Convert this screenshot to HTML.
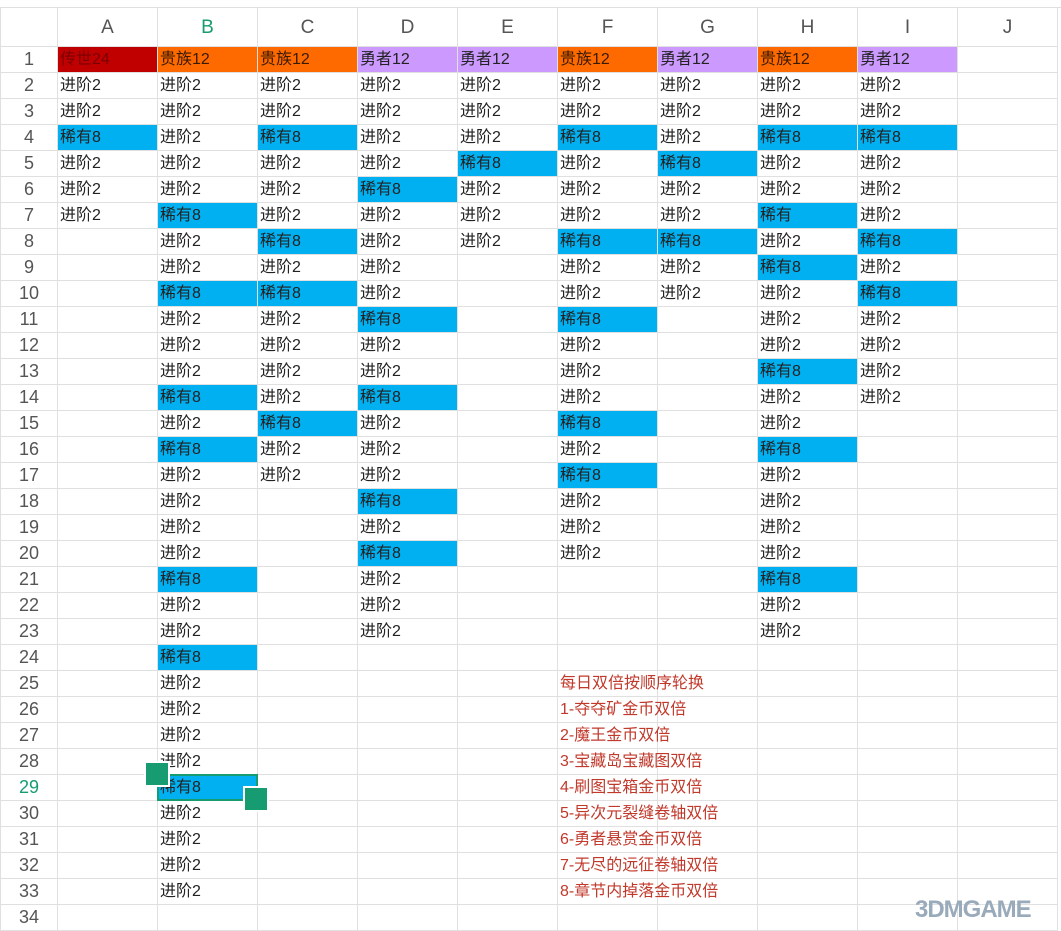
<!DOCTYPE html>
<html><head><meta charset="utf-8"><style>
body{margin:0;width:1061px;height:929px;overflow:hidden;background:#fff;position:relative;font-family:"Liberation Sans","Noto Sans CJK SC",sans-serif}
.top{position:absolute;left:0;top:0;width:1061px;height:7px;border-bottom:1px solid #ddd}
table{position:absolute;left:0;top:7px;width:1057px;border-collapse:collapse;table-layout:fixed}
td{border:1px solid #e0e0e0;height:25px;padding:0 0 0 2px;font-size:16px;color:#222;white-space:nowrap;overflow:visible;line-height:25px}
tr.h td{height:38px;text-align:center;font-size:19px;color:#555;padding:0}
td.n{text-align:center;font-size:18px;color:#555;padding:0}
.r{background:#c00000;color:#7a0000}.o{background:#ff6a00;color:#3a1a00}.p{background:#cc99ff}.b{background:#00b0f0}
.t{color:#c0392b}
.g{color:#179c72!important}
.sel{position:absolute;left:157px;top:774px;width:101px;height:27px;border:2px solid #179c72;box-sizing:border-box}
.hd{position:absolute;width:22px;height:22px;background:#179c72;border:2px solid #fff}
.logo{position:absolute;left:915px;top:896px;font-size:24px;font-weight:bold;color:#9ab;letter-spacing:-1px}
</style></head><body>
<div class="top"></div>
<table>
<colgroup><col style="width:57px"><col style="width:100px"><col style="width:100px"><col style="width:100px"><col style="width:100px"><col style="width:100px"><col style="width:100px"><col style="width:100px"><col style="width:100px"><col style="width:100px"><col style="width:100px"></colgroup>
<tr class="h"><td></td><td>A</td><td class="g">B</td><td>C</td><td>D</td><td>E</td><td>F</td><td>G</td><td>H</td><td>I</td><td>J</td></tr>
<tr><td class="n">1</td><td class="r">传世24</td><td class="o">贵族12</td><td class="o">贵族12</td><td class="p">勇者12</td><td class="p">勇者12</td><td class="o">贵族12</td><td class="p">勇者12</td><td class="o">贵族12</td><td class="p">勇者12</td><td></td></tr>
<tr><td class="n">2</td><td>进阶2</td><td>进阶2</td><td>进阶2</td><td>进阶2</td><td>进阶2</td><td>进阶2</td><td>进阶2</td><td>进阶2</td><td>进阶2</td><td></td></tr>
<tr><td class="n">3</td><td>进阶2</td><td>进阶2</td><td>进阶2</td><td>进阶2</td><td>进阶2</td><td>进阶2</td><td>进阶2</td><td>进阶2</td><td>进阶2</td><td></td></tr>
<tr><td class="n">4</td><td class="b">稀有8</td><td>进阶2</td><td class="b">稀有8</td><td>进阶2</td><td>进阶2</td><td class="b">稀有8</td><td>进阶2</td><td class="b">稀有8</td><td class="b">稀有8</td><td></td></tr>
<tr><td class="n">5</td><td>进阶2</td><td>进阶2</td><td>进阶2</td><td>进阶2</td><td class="b">稀有8</td><td>进阶2</td><td class="b">稀有8</td><td>进阶2</td><td>进阶2</td><td></td></tr>
<tr><td class="n">6</td><td>进阶2</td><td>进阶2</td><td>进阶2</td><td class="b">稀有8</td><td>进阶2</td><td>进阶2</td><td>进阶2</td><td>进阶2</td><td>进阶2</td><td></td></tr>
<tr><td class="n">7</td><td>进阶2</td><td class="b">稀有8</td><td>进阶2</td><td>进阶2</td><td>进阶2</td><td>进阶2</td><td>进阶2</td><td class="b">稀有</td><td>进阶2</td><td></td></tr>
<tr><td class="n">8</td><td></td><td>进阶2</td><td class="b">稀有8</td><td>进阶2</td><td>进阶2</td><td class="b">稀有8</td><td class="b">稀有8</td><td>进阶2</td><td class="b">稀有8</td><td></td></tr>
<tr><td class="n">9</td><td></td><td>进阶2</td><td>进阶2</td><td>进阶2</td><td></td><td>进阶2</td><td>进阶2</td><td class="b">稀有8</td><td>进阶2</td><td></td></tr>
<tr><td class="n">10</td><td></td><td class="b">稀有8</td><td class="b">稀有8</td><td>进阶2</td><td></td><td>进阶2</td><td>进阶2</td><td>进阶2</td><td class="b">稀有8</td><td></td></tr>
<tr><td class="n">11</td><td></td><td>进阶2</td><td>进阶2</td><td class="b">稀有8</td><td></td><td class="b">稀有8</td><td></td><td>进阶2</td><td>进阶2</td><td></td></tr>
<tr><td class="n">12</td><td></td><td>进阶2</td><td>进阶2</td><td>进阶2</td><td></td><td>进阶2</td><td></td><td>进阶2</td><td>进阶2</td><td></td></tr>
<tr><td class="n">13</td><td></td><td>进阶2</td><td>进阶2</td><td>进阶2</td><td></td><td>进阶2</td><td></td><td class="b">稀有8</td><td>进阶2</td><td></td></tr>
<tr><td class="n">14</td><td></td><td class="b">稀有8</td><td>进阶2</td><td class="b">稀有8</td><td></td><td>进阶2</td><td></td><td>进阶2</td><td>进阶2</td><td></td></tr>
<tr><td class="n">15</td><td></td><td>进阶2</td><td class="b">稀有8</td><td>进阶2</td><td></td><td class="b">稀有8</td><td></td><td>进阶2</td><td></td><td></td></tr>
<tr><td class="n">16</td><td></td><td class="b">稀有8</td><td>进阶2</td><td>进阶2</td><td></td><td>进阶2</td><td></td><td class="b">稀有8</td><td></td><td></td></tr>
<tr><td class="n">17</td><td></td><td>进阶2</td><td>进阶2</td><td>进阶2</td><td></td><td class="b">稀有8</td><td></td><td>进阶2</td><td></td><td></td></tr>
<tr><td class="n">18</td><td></td><td>进阶2</td><td></td><td class="b">稀有8</td><td></td><td>进阶2</td><td></td><td>进阶2</td><td></td><td></td></tr>
<tr><td class="n">19</td><td></td><td>进阶2</td><td></td><td>进阶2</td><td></td><td>进阶2</td><td></td><td>进阶2</td><td></td><td></td></tr>
<tr><td class="n">20</td><td></td><td>进阶2</td><td></td><td class="b">稀有8</td><td></td><td>进阶2</td><td></td><td>进阶2</td><td></td><td></td></tr>
<tr><td class="n">21</td><td></td><td class="b">稀有8</td><td></td><td>进阶2</td><td></td><td></td><td></td><td class="b">稀有8</td><td></td><td></td></tr>
<tr><td class="n">22</td><td></td><td>进阶2</td><td></td><td>进阶2</td><td></td><td></td><td></td><td>进阶2</td><td></td><td></td></tr>
<tr><td class="n">23</td><td></td><td>进阶2</td><td></td><td>进阶2</td><td></td><td></td><td></td><td>进阶2</td><td></td><td></td></tr>
<tr><td class="n">24</td><td></td><td class="b">稀有8</td><td></td><td></td><td></td><td></td><td></td><td></td><td></td><td></td></tr>
<tr><td class="n">25</td><td></td><td>进阶2</td><td></td><td></td><td></td><td class="t">每日双倍按顺序轮换</td><td></td><td></td><td></td><td></td></tr>
<tr><td class="n">26</td><td></td><td>进阶2</td><td></td><td></td><td></td><td class="t">1-夺夺矿金币双倍</td><td></td><td></td><td></td><td></td></tr>
<tr><td class="n">27</td><td></td><td>进阶2</td><td></td><td></td><td></td><td class="t">2-魔王金币双倍</td><td></td><td></td><td></td><td></td></tr>
<tr><td class="n">28</td><td></td><td>进阶2</td><td></td><td></td><td></td><td class="t">3-宝藏岛宝藏图双倍</td><td></td><td></td><td></td><td></td></tr>
<tr><td class="n g">29</td><td></td><td class="b">稀有8</td><td></td><td></td><td></td><td class="t">4-刷图宝箱金币双倍</td><td></td><td></td><td></td><td></td></tr>
<tr><td class="n">30</td><td></td><td>进阶2</td><td></td><td></td><td></td><td class="t">5-异次元裂缝卷轴双倍</td><td></td><td></td><td></td><td></td></tr>
<tr><td class="n">31</td><td></td><td>进阶2</td><td></td><td></td><td></td><td class="t">6-勇者悬赏金币双倍</td><td></td><td></td><td></td><td></td></tr>
<tr><td class="n">32</td><td></td><td>进阶2</td><td></td><td></td><td></td><td class="t">7-无尽的远征卷轴双倍</td><td></td><td></td><td></td><td></td></tr>
<tr><td class="n">33</td><td></td><td>进阶2</td><td></td><td></td><td></td><td class="t">8-章节内掉落金币双倍</td><td></td><td></td><td></td><td></td></tr>
<tr><td class="n">34</td><td></td><td></td><td></td><td></td><td></td><td></td><td></td><td></td><td></td><td></td></tr>
</table>
<div class="sel"></div>
<div class="hd" style="left:144px;top:761px"></div>
<div class="hd" style="left:243px;top:786px"></div>
<div class="logo">3DMGAME</div>
</body></html>
